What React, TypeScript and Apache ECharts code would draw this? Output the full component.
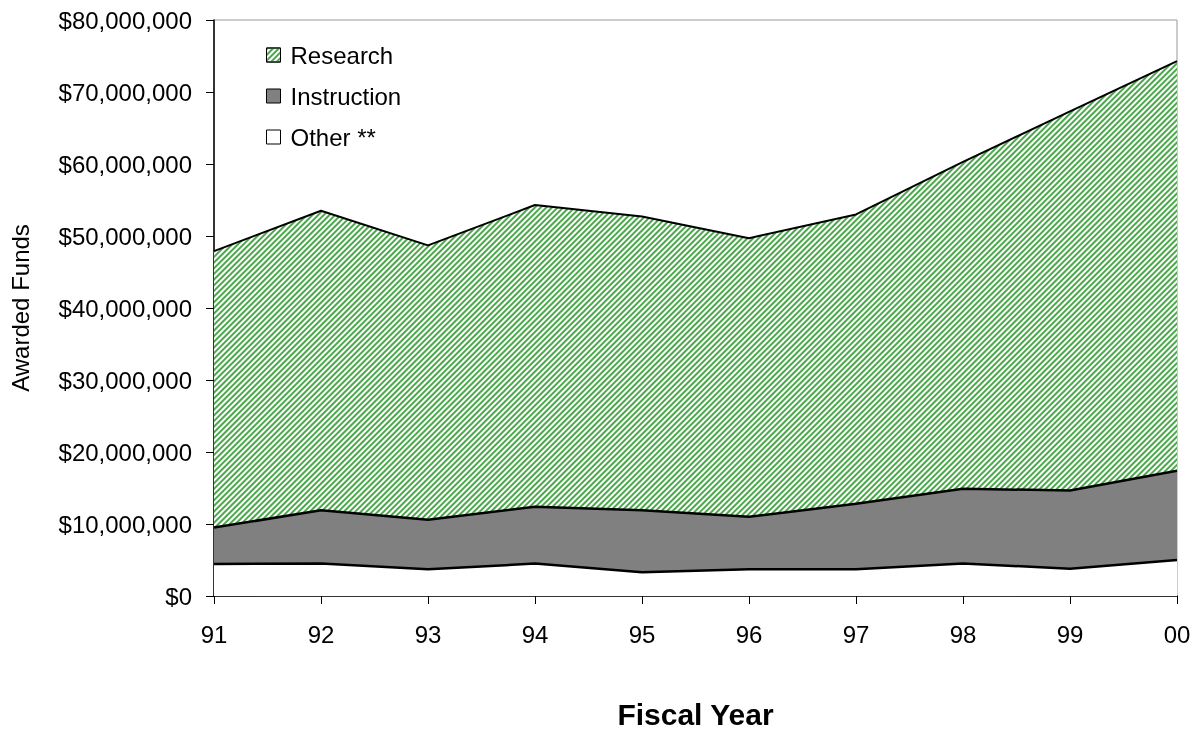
import React, { useEffect, useRef } from "react";
import * as echarts from "echarts";

const years = ["91", "92", "93", "94", "95", "96", "97", "98", "99", "00"];
const other = [4450000, 4500000, 3700000, 4500000, 3300000, 3700000, 3700000, 4500000, 3800000, 5000000];
const instruction = [5050000, 7400000, 6900000, 7900000, 8600000, 7300000, 9100000, 10400000, 10850000, 12400000];
const research = [38400000, 41600000, 38100000, 41900000, 40800000, 38700000, 40200000, 45400000, 52650000, 56900000];

const fmt = (v: number) => "$" + v.toLocaleString("en-US");

export default function App() {
  const ref = useRef<HTMLDivElement>(null);
  useEffect(() => {
    const chart = echarts.init(ref.current!, null, { renderer: "svg" });
    const font = "'Liberation Sans', Arial, sans-serif";
    const hatch = {
      symbol: "rect",
      symbolSize: 1,
      dashArrayX: [1, 0],
      dashArrayY: [2, 2],
      rotation: -Math.PI / 4,
      color: "#4aa84a",
    };
    chart.setOption({
      animation: false,
      textStyle: { fontFamily: font },
      grid: {
        left: 210,
        right: 19,
        top: 20,
        bottom: 134,
        containLabel: false,
        show: true,
        borderColor: "#999",
        borderWidth: 1,
        backgroundColor: "transparent",
      },
      legend: {
        left: 261,
        top: 38,
        orient: "vertical",
        itemGap: 17,
        itemWidth: 14,
        itemHeight: 14,
        icon: "rect",
        itemStyle: { borderColor: "#000", borderWidth: 1 },
        textStyle: { fontSize: 24, color: "#000", fontFamily: font, padding: [0, 0, 0, 5] },
        data: ["Research", "Instruction", "Other **"],
      },
      xAxis: {
        type: "category",
        data: years,
        boundaryGap: false,
        axisLine: { lineStyle: { color: "#000", width: 1.5 } },
        axisTick: { show: true, length: 8, lineStyle: { color: "#000" } },
        axisLabel: { fontSize: 24, color: "#000", margin: 26, fontFamily: font },
        name: "Fiscal Year",
        nameLocation: "middle",
        nameGap: 103,
        nameTextStyle: { fontSize: 30, fontWeight: "bold", color: "#000", fontFamily: font },
        splitLine: { show: false },
      },
      yAxis: {
        type: "value",
        min: 0,
        max: 80000000,
        interval: 10000000,
        axisLine: { show: true, lineStyle: { color: "#000", width: 1.5 } },
        axisTick: { show: true, length: 8, lineStyle: { color: "#000" } },
        axisLabel: { fontSize: 24, color: "#000", margin: 22, formatter: fmt, fontFamily: font },
        splitLine: { show: false },
        name: "Awarded Funds",
        nameLocation: "middle",
        nameGap: 182,
        nameRotate: 90,
        nameTextStyle: { fontSize: 24, color: "#000", fontFamily: font },
      },
      series: [
        {
          name: "Other **",
          type: "line",
          stack: "total",
          data: other,
          symbol: "none",
          lineStyle: { color: "#000", width: 2.5 },
          itemStyle: { color: "#fff" },
          areaStyle: { color: "#fff", opacity: 1 },
        },
        {
          name: "Instruction",
          type: "line",
          stack: "total",
          data: instruction,
          symbol: "none",
          lineStyle: { color: "#000", width: 2.5 },
          itemStyle: { color: "#808080" },
          areaStyle: { color: "#808080", opacity: 1 },
        },
        {
          name: "Research",
          type: "line",
          stack: "total",
          data: research,
          symbol: "none",
          lineStyle: { color: "#000", width: 2 },
          itemStyle: { color: "#fff", decal: hatch },
          areaStyle: { color: "#fff", opacity: 1, decal: hatch },
        },
      ],
    });
    return () => chart.dispose();
  }, []);
  return (
    <div
      ref={ref}
      style={{ position: "fixed", left: 0, top: 0, width: 1196, height: 734 }}
    />
  );
}
